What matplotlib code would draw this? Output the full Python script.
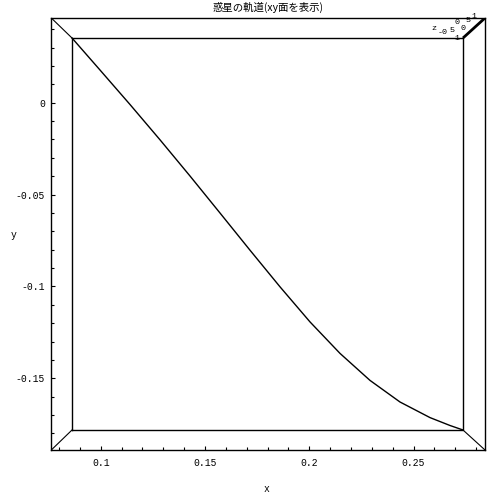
import numpy as np
import matplotlib.pyplot as plt
from matplotlib.ticker import MultipleLocator

# orbit (top view of a 3D box)
orbit_x = [0.08624, 0.09966, 0.11405, 0.12843, 0.14281, 0.15719, 0.17157,
           0.18595, 0.20033, 0.21472, 0.22910, 0.24348, 0.25786, 0.26745,
           0.27368]
orbit_y = [0.03522, 0.01780, -0.00098, -0.02020, -0.03990, -0.06004, -0.08029,
           -0.10022, -0.11932, -0.13647, -0.15117, -0.16293, -0.17142, -0.17572,
           -0.17817]

x_ticks = [0.1, 0.15, 0.2, 0.25]
y_ticks = [0, -0.05, -0.1, -0.15]
x_labels = ["0.1", "0.15", "0.2", "0.25"]
y_labels = ["0", "-0.05", "-0.1", "-0.15"]
x_range = (0.07632, 0.28423)
y_range = (-0.18906, 0.04611)

title = "惑星の軌道(xy面を表示)"
mono = "Liberation Mono"

fig = plt.figure(figsize=(4.96, 4.96), dpi=100)
ax = fig.add_axes([51.3/496, 1-450/496, 433.7/496, 432/496])
ax.set_xlim(*x_range)
ax.set_ylim(*y_range)

# curve
ax.plot(orbit_x, orbit_y, color="black", lw=1.0)

# inner (far) face of the box = bounds of the curve
x0, x1 = min(orbit_x), max(orbit_x)
y0, y1 = min(orbit_y), max(orbit_y)
ax.plot([x0, x1, x1, x0, x0], [y0, y0, y1, y1, y0], color="black", lw=1.0)

# edges joining inner and outer faces
X0, X1 = x_range
Y0, Y1 = y_range
for (a, b), (c, d) in [((X0, x0), (Y1, y1)), ((X0, x0), (Y0, y0)), ((X1, x1), (Y0, y0))]:
    ax.plot([a, b], [c, d], color="black", lw=0.8)
# z axis edge (drawn heavier)
ax.plot([x1, X1], [y1, Y1], color="black", lw=2.0, solid_capstyle="butt")

for s in ax.spines.values():
    s.set_linewidth(1.0)

ax.set_xticks(x_ticks)
ax.set_xticklabels(x_labels)
ax.set_yticks(y_ticks)
ax.set_yticklabels(y_labels)
ax.xaxis.set_minor_locator(MultipleLocator(0.01))
ax.yaxis.set_minor_locator(MultipleLocator(0.01))
ax.tick_params(which="both", direction="in", top=False, right=False, width=0.8)
ax.tick_params(which="major", length=2.6, labelsize=7)
ax.tick_params(axis="x", which="major", pad=6)
ax.tick_params(axis="y", which="major", pad=4.5)
ax.tick_params(which="minor", length=2.0)
for lab in ax.get_xticklabels() + ax.get_yticklabels():
    lab.set_family(mono)

ax.set_xlabel("x", family=mono, fontsize=7, va="center")
ax.set_ylabel("y", family=mono, fontsize=7, rotation=0, va="center", ha="center")
ax.xaxis.set_label_coords(0.497, -0.090)
ax.yaxis.set_label_coords(-0.088, 0.498)

ax.text(0.5, 1.025, title, transform=ax.transAxes, ha="center", va="center",
        fontsize=7.5, family=["Noto Sans CJK JP", "DejaVu Sans"])

# z tick labels squeezed on the short edge (pixel spots)
z_bits = [("z", 434, 29), ("-0", 443, 32), ("5", 452, 31), ("-1", 456, 38),
          ("0", 457, 23), ("0", 463, 28), ("5", 468, 21), ("1", 474, 17)]
for txt, px, py in z_bits:
    fig.text(px/496, 1-py/496, txt, family=mono, fontsize=6, ha="center", va="center")

fig.savefig("out.png", dpi=100)
